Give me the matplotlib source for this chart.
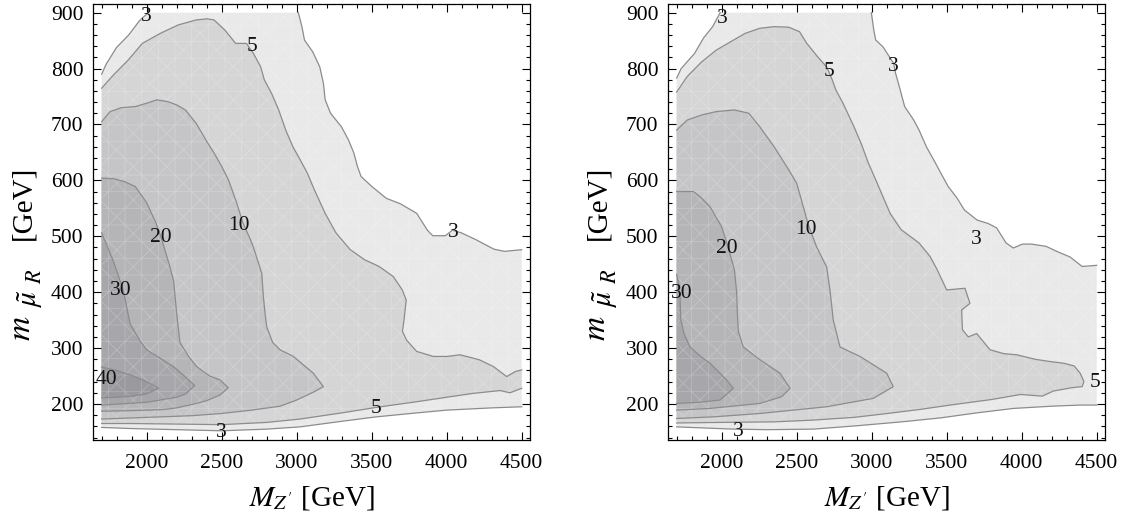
import matplotlib
matplotlib.use('Agg')
import matplotlib.pyplot as plt
import numpy as np
from matplotlib.patches import Polygon
from matplotlib.ticker import MultipleLocator

plt.rcParams['font.family'] = ['Liberation Serif', 'DejaVu Serif']
plt.rcParams['mathtext.fontset'] = 'stix'
plt.rcParams['hatch.linewidth'] = 0.6

# contour levels and their fill shades (region value >= level)
levels = [3, 5, 10, 20, 30, 40]
shades = ['#e8e9e8', '#d5d5d6', '#c5c5c7', '#b5b5b8', '#a7a7ab', '#9a9a9e']
line_color = '#8c8c8c'

# ---- left panel contour lines (M_Z' [GeV], m_mu [GeV]) ----
left_3_top = [(1700, 790), (1730, 808), (1800, 838), (1880, 860), (1950, 885), (2010, 900)]
left_3_right = [(3011, 900), (3035, 875), (3052, 851), (3107, 830), (3154, 803), (3178, 774),
                (3190, 744), (3226, 720), (3298, 696), (3346, 672), (3381, 649), (3405, 625),
                (3429, 607), (3501, 589), (3597, 568), (3692, 558), (3800, 541), (3871, 511),
                (3907, 501), (3991, 501), (4039, 511), (4099, 506), (4194, 494), (4314, 477),
                (4385, 473), (4500, 476)]
left_3_bottom = [(4500, 195), (4300, 193), (4000, 189), (3800, 184), (3533, 177), (3300, 169),
                 (3022, 159), (2800, 155), (2500, 152), (2200, 154), (1900, 156), (1700, 158)]
left_5_upper = [(1700, 765), (1780, 789), (1876, 815), (1971, 845), (2091, 863), (2210, 878),
                (2330, 887), (2402, 889), (2449, 887), (2521, 869), (2593, 845), (2665, 845),
                (2712, 827), (2760, 803), (2784, 780), (2832, 756), (2880, 726), (2927, 690),
                (2975, 660), (3023, 637), (3071, 613), (3118, 583), (3190, 541), (3262, 506),
                (3357, 476), (3453, 458), (3549, 446), (3644, 428), (3704, 404), (3730, 386),
                (3716, 351), (3705, 330), (3733, 314), (3800, 294), (3911, 285), (4003, 285),
                (4089, 288), (4218, 279), (4311, 267), (4400, 249), (4457, 258), (4500, 261)]
left_5_lower = [(4500, 228), (4422, 220), (4356, 224), (4178, 219), (4000, 212), (3800, 204),
                (3533, 194), (3300, 184), (3022, 173), (2800, 167), (2500, 163), (2200, 164),
                (1900, 165), (1700, 165)]
left_10 = [(1700, 705), (1756, 723), (1830, 730), (1924, 732), (2000, 738), (2067, 744),
           (2139, 741), (2200, 735), (2258, 726), (2330, 702), (2400, 670), (2449, 649),
           (2500, 625), (2545, 601), (2600, 560), (2640, 525), (2690, 495), (2711, 481),
           (2767, 434), (2778, 392), (2790, 360), (2800, 338), (2840, 310), (2889, 297),
           (2978, 285), (3111, 255), (3178, 231), (3118, 222), (3000, 207), (2889, 196),
           (2700, 189), (2500, 183), (2300, 179), (2000, 176), (1700, 173)]
left_20 = [(1700, 604), (1780, 603), (1850, 598), (1924, 589), (2000, 560), (2060, 525),
           (2100, 495), (2150, 450), (2180, 420), (2200, 362), (2222, 310), (2280, 285),
           (2333, 267), (2420, 250), (2489, 243), (2544, 229), (2489, 216), (2400, 206),
           (2333, 201), (2200, 193), (2111, 190), (1900, 188), (1700, 187)]
left_30 = [(1700, 506), (1776, 457), (1844, 404), (1889, 344), (1950, 315), (2000, 297),
           (2178, 267), (2260, 248), (2320, 233), (2260, 218), (2200, 212), (2000, 203),
           (1700, 198)]
left_40 = [(1700, 266), (1800, 260), (1900, 251), (2000, 240), (2080, 228), (2000, 218),
           (1900, 214), (1800, 212), (1700, 211)]

left_labels = [('3', 1995, 893), ('5', 2700, 840), ('10', 2612, 520), ('20', 2091, 497),
               ('30', 1828, 403), ('40', 1732, 243), ('3', 4046, 507), ('5', 3530, 191),
               ('3', 2497, 149)]

# ---- right panel contour lines ----
right_3_top = [(1700, 783), (1730, 800), (1819, 827), (1880, 855), (1940, 875), (1990, 900)]
right_3_right = [(2998, 900), (3014, 869), (3027, 851), (3075, 839), (3147, 809), (3159, 792),
                 (3184, 768), (3220, 732), (3280, 708), (3316, 690), (3365, 660), (3413, 637),
                 (3461, 613), (3510, 589), (3570, 568), (3618, 547), (3703, 529), (3775, 523),
                 (3833, 515), (3896, 488), (3944, 479), (4005, 486), (4065, 486), (4162, 482),
                 (4234, 473), (4322, 463), (4403, 446), (4500, 448)]
right_3_bottom = [(4500, 198), (4389, 198), (4200, 196), (3944, 192), (3700, 184), (3456, 175),
                  (3200, 168), (2900, 161), (2611, 155), (2300, 154), (2078, 155), (1700, 159)]
right_5 = [(1700, 758), (1771, 786), (1867, 812), (1964, 833), (2060, 848), (2157, 863),
           (2254, 872), (2350, 875), (2447, 874), (2519, 866), (2568, 845), (2640, 821),
           (2700, 803), (2737, 780), (2761, 762), (2809, 738), (2882, 696), (2930, 666),
           (2978, 631), (3027, 601), (3075, 571), (3123, 541), (3196, 512), (3316, 488),
           (3389, 464), (3437, 440), (3500, 404), (3622, 407), (3655, 380), (3600, 368),
           (3605, 333), (3644, 320), (3700, 326), (3789, 297), (3880, 290), (3967, 288),
           (4089, 280), (4186, 276), (4278, 273), (4350, 268), (4390, 255), (4415, 240),
           (4403, 231), (4331, 229), (4210, 223), (4138, 214), (3993, 217), (3800, 208),
           (3522, 198), (3316, 190), (3075, 182), (2882, 176), (2600, 171), (2350, 168),
           (1988, 167), (1700, 166)]
right_10 = [(1700, 690), (1771, 708), (1867, 717), (1964, 723), (2085, 726), (2181, 720),
            (2254, 696), (2350, 660), (2447, 619), (2500, 595), (2544, 553), (2578, 520),
            (2633, 481), (2700, 445), (2722, 404), (2744, 350), (2789, 302), (2922, 285),
            (3000, 272), (3100, 255), (3144, 231), (3011, 210), (2700, 195), (2256, 183),
            (1950, 177), (1700, 174)]
right_20 = [(1700, 580), (1811, 580), (1860, 570), (1922, 553), (2000, 517), (2044, 480),
            (2085, 440), (2100, 400), (2105, 360), (2111, 330), (2144, 302), (2256, 279),
            (2389, 255), (2456, 228), (2400, 213), (2256, 201), (1922, 192), (1700, 189)]
right_30 = [(1700, 432), (1712, 418), (1722, 395), (1728, 350), (1750, 325), (1789, 302),
            (1860, 285), (1922, 273), (2033, 243), (2078, 228), (1989, 207), (1850, 203),
            (1700, 201)]

right_labels = [('3', 2007, 890), ('5', 2713, 795), ('3', 3147, 803), ('10', 2563, 512),
                ('20', 2036, 479), ('30', 1734, 398), ('3', 3698, 495), ('5', 4488, 239),
                ('3', 2113, 150)]

left_regions = [[left_3_bottom, left_3_top, left_3_right], [left_5_upper, left_5_lower],
                [left_10], [left_20], [left_30], [left_40]]
right_regions = [[right_3_bottom, right_3_top, right_3_right], [right_5],
                 [right_10], [right_20], [right_30]]

W, H = 1125, 516


def draw_panel(ax, regions, labels):
    for i, curves in enumerate(regions):
        poly = np.vstack([np.array(c, dtype=float) for c in curves])
        ax.add_patch(Polygon(poly, closed=True, facecolor=shades[i],
                             edgecolor='none', zorder=1 + i * 0.1))
        if i == 0:
            # faint triangular mesh texture of the original rendering
            ax.add_patch(Polygon(poly, closed=True, fill=False, hatch='x+',
                                 edgecolor=(1, 1, 1, 0.22), linewidth=0, zorder=2.5))
        for c in curves:
            c = np.array(c, dtype=float)
            ax.plot(c[:, 0], c[:, 1], color=line_color, lw=0.9, zorder=3)
    for txt, x, y in labels:
        ax.text(x, y, txt, fontsize=15.5, ha='center', va='center', color='#111111', zorder=4)

    ax.set_xlim(1644, 4556)
    ax.set_ylim(135, 915)
    ax.set_xticks(range(2000, 4501, 500))
    ax.set_yticks(range(200, 901, 100))
    ax.xaxis.set_minor_locator(MultipleLocator(100))
    ax.yaxis.set_minor_locator(MultipleLocator(20))
    ax.tick_params(which='both', direction='in', top=True, right=True, width=0.8)
    ax.tick_params(which='major', length=6, labelsize=15.5)
    ax.tick_params(axis='x', which='major', pad=10)
    ax.tick_params(axis='y', which='major', pad=7)
    ax.tick_params(which='minor', length=3)
    for s in ax.spines.values():
        s.set_linewidth(0.9)
    ax.set_xlabel(r'$M_{Z^{\prime}}$ [GeV]', fontsize=21, labelpad=8)


def draw_ylabel(fig, dx):
    # Mathematica-style label with large subscripts, built from pieces (pixel positions)
    pieces = [(r'$m$', 24, 30, 328), (r'$\tilde{\mu}$', 21, 37, 298),
              (r'$R$', 16, 41, 276), ('[GeV]', 21, 30, 203)]
    for txt, size, bx, cy in pieces:
        fig.text((bx + dx) / W, 1 - cy / H, txt, fontsize=size, rotation=90,
                 rotation_mode='anchor', ha='center', va='baseline')


fig = plt.figure(figsize=(11.25, 5.16), dpi=100)
ax1 = fig.add_axes([0.0829, 0.1467, 0.3883, 0.845])
ax2 = fig.add_axes([0.594, 0.1467, 0.3883, 0.845])
draw_panel(ax1, left_regions, left_labels)
draw_panel(ax2, right_regions, right_labels)
draw_ylabel(fig, 0)
draw_ylabel(fig, 575)

fig.savefig('out.png', dpi=100)
